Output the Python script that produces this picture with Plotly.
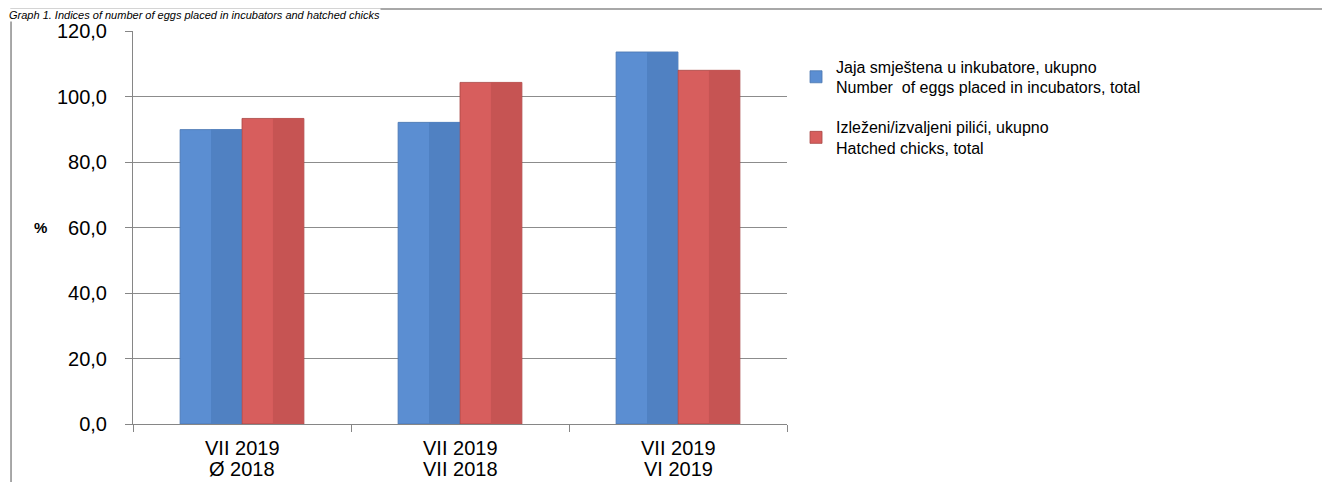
import plotly.graph_objects as go

categories = ["VII 2019 / Ø 2018", "VII 2019 / VII 2018", "VII 2019 / VI 2019"]
label_line1 = ["VII 2019", "VII 2019", "VII 2019"]
label_line2 = ["Ø 2018", "VII 2018", "VI 2019"]
eggs = [89.9, 92.1, 113.6]
chicks = [93.3, 104.3, 108.0]
y_ticks = [0, 20, 40, 60, 80, 100, 120]
y_tick_labels = ["0,0", "20,0", "40,0", "60,0", "80,0", "100,0", "120,0"]

name_eggs = "Jaja smještena u inkubatore, ukupno<br>Number  of eggs placed in incubators, total"
name_chicks = "Izleženi/izvaljeni pilići, ukupno<br>Hatched chicks, total"

FONT = "Liberation Sans, Arial, sans-serif"
BW = 0.284  # bar width in category units

fig = go.Figure()
# main bars (left/light half visible)
fig.add_trace(go.Bar(
    x=categories, y=eggs, name=name_eggs, legendgroup="eggs",
    offset=-BW, width=BW,
    marker=dict(color="#5B8ED2", line=dict(color="#4A76B0", width=0.8)),
))
fig.add_trace(go.Bar(
    x=categories, y=chicks, name=name_chicks, legendgroup="chicks",
    offset=0, width=BW,
    marker=dict(color="#D75E5D", line=dict(color="#A84644", width=0.8)),
))
# slightly darker right halves for a bevelled look
fig.add_trace(go.Bar(
    x=categories, y=eggs, showlegend=False, legendgroup="eggs", hoverinfo="skip",
    offset=-BW / 2, width=BW / 2 - 0.003,
    marker=dict(color="#5081C2", line=dict(width=0)),
))
fig.add_trace(go.Bar(
    x=categories, y=chicks, showlegend=False, legendgroup="chicks", hoverinfo="skip",
    offset=BW / 2, width=BW / 2 - 0.003,
    marker=dict(color="#C65453", line=dict(width=0)),
))

annotations = [
    dict(text="<i>Graph 1. Indices of number of eggs placed in incubators and hatched chicks</i>",
         xref="paper", yref="paper", x=-0.191, y=1.0585, xanchor="left", yanchor="top",
         showarrow=False, bgcolor="white", borderpad=0,
         font=dict(family=FONT, size=11, color="black")),
    dict(text="<b>%</b>", xref="paper", yref="paper", x=-0.142, y=0.501,
         xanchor="center", yanchor="middle", showarrow=False,
         font=dict(family=FONT, size=15, color="black")),
]
for c, l1, l2 in zip(categories, label_line1, label_line2):
    annotations.append(dict(text=l1, x=c, xref="x", y=0, yref="paper", yanchor="middle",
                            yshift=-24, showarrow=False,
                            font=dict(family=FONT, size=20, color="black")))
    annotations.append(dict(text=l2, x=c, xref="x", y=0, yref="paper", yanchor="middle",
                            yshift=-45, showarrow=False,
                            font=dict(family=FONT, size=20, color="black")))

fig.update_layout(
    width=1330, height=482,
    margin=dict(l=125, r=551, t=23, b=66),
    paper_bgcolor="white", plot_bgcolor="white",
    barmode="overlay",
    font=dict(family=FONT, size=16, color="black"),
    showlegend=True,
    legend=dict(
        x=1.0138, y=0.953, xanchor="left", yanchor="top",
        font=dict(family=FONT, size=16, color="black"),
        tracegroupgap=16, itemwidth=30,
        bgcolor="rgba(0,0,0,0)",
    ),
    xaxis=dict(
        showline=True, linecolor="#868686", linewidth=1,
        ticks="outside", ticklen=7, tickcolor="#868686",
        tickson="boundaries", showticklabels=False,
        showgrid=False,
    ),
    yaxis=dict(
        range=[0, 120], tickvals=y_ticks, ticktext=y_tick_labels,
        showline=True, linecolor="#868686", linewidth=1,
        ticks="outside", ticklen=7, tickcolor="#868686",
        ticklabelstandoff=14,
        showgrid=True, gridcolor="#8C8C8C", gridwidth=1,
        tickfont=dict(family=FONT, size=20, color="black"),
        zeroline=False,
    ),
    shapes=[
        dict(type="rect", xref="paper", yref="paper",
             x0=-0.1865, x1=1.827, y0=-0.25, y1=1.056,
             line=dict(color="#8C8C8C", width=1.5), fillcolor="rgba(0,0,0,0)", layer="below"),
    ],
    annotations=annotations,
)

fig.write_html("out.html")
